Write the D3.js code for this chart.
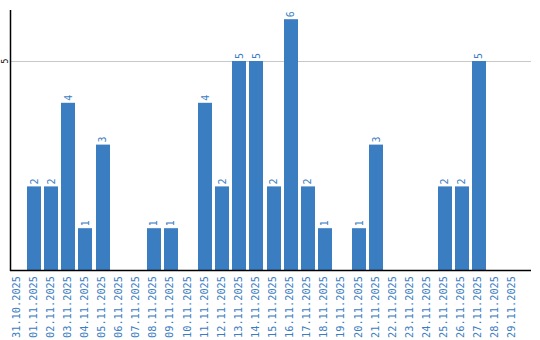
<!DOCTYPE html>
<html><head><meta charset="utf-8">
<script src="https://cdn.jsdelivr.net/npm/d3@7"></script>
<style>body{margin:0;background:#fff}svg{display:block}</style>
</head><body>
<script>
const categories = ["31.10.2025","01.11.2025","02.11.2025","03.11.2025","04.11.2025","05.11.2025","06.11.2025","07.11.2025","08.11.2025","09.11.2025","10.11.2025","11.11.2025","12.11.2025","13.11.2025","14.11.2025","15.11.2025","16.11.2025","17.11.2025","18.11.2025","19.11.2025","20.11.2025","21.11.2025","22.11.2025","23.11.2025","24.11.2025","25.11.2025","26.11.2025","27.11.2025","28.11.2025","29.11.2025"];
const values = [0,2,2,4,1,3,0,0,1,1,0,4,2,5,5,2,6,2,1,0,1,3,0,0,0,2,2,5,0,0];
const yTicks = [5];

const W = 540, H = 340;
const mLeft = 10, mRight = 531, mTop = 10, mBottom = 270;
const svg = d3.select("body").append("svg").attr("width", W).attr("height", H);
const x = d3.scaleBand().domain(categories).range([mLeft, mLeft + 17 * categories.length]).paddingInner(3/17).paddingOuter(0).align(0);
const y = d3.scaleLinear().domain([0, 6.22]).range([mBottom, mTop]);
const blue = "#3b7dc1";
const font = "'DejaVu Sans Mono', monospace";

// grid
svg.selectAll("line.grid").data(yTicks).enter().append("line")
  .attr("x1", mLeft).attr("x2", mRight)
  .attr("y1", d => Math.round(y(d)) + 0.5).attr("y2", d => Math.round(y(d)) + 0.5)
  .attr("stroke", "#c8c8c8").attr("stroke-width", 1);

// bars
svg.selectAll("rect.bar").data(values).enter().append("rect")
  .attr("x", (d, i) => Math.round(x(categories[i])))
  .attr("width", 14)
  .attr("y", d => y(d)).attr("height", d => mBottom - y(d))
  .attr("fill", blue);

// value labels
svg.selectAll("text.val").data(values.map((v, i) => ({v, c: categories[i]})).filter(d => d.v > 0)).enter().append("text")
  .attr("transform", d => `translate(${x(d.c) + 7 + 3.5},${y(d.v) - 2}) rotate(-90)`)
  .attr("font-family", font).attr("font-size", 10).attr("fill", blue)
  .text(d => d.v);

// y axis
svg.append("line").attr("x1", mLeft + 0.5).attr("x2", mLeft + 0.5).attr("y1", mTop).attr("y2", mBottom + 1).attr("stroke", "#000").attr("stroke-width", 1.5);
svg.selectAll("text.yt").data(yTicks).enter().append("text")
  .attr("transform", d => `translate(8,${y(d)}) rotate(-90)`)
  .attr("text-anchor", "middle")
  .attr("font-family", font).attr("font-size", 8).attr("fill", "#000")
  .text(d => d);

// x axis
svg.append("line").attr("x1", mLeft).attr("x2", mRight).attr("y1", mBottom + 0.5).attr("y2", mBottom + 0.5).attr("stroke", "#000").attr("stroke-width", 1.5);
svg.selectAll("text.xt").data(categories).enter().append("text")
  .attr("transform", d => `translate(${x(d) + 7 + 2.5},${mBottom + 6}) rotate(-90)`)
  .attr("text-anchor", "end")
  .attr("font-family", font).attr("font-size", 10.3).attr("fill", blue)
  .text(d => d);
</script>
</body></html>
